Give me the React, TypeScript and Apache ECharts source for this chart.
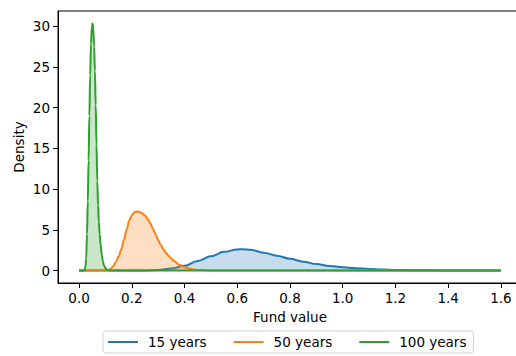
import React, { useEffect, useRef } from "react";
import * as echarts from "echarts";

const seriesNames = ["15 years", "50 years", "100 years"];
const colors = ["#1f77b4", "#ff7f0e", "#2ca02c"];

const xTicks = [0, 0.2, 0.4, 0.6, 0.8, 1.0, 1.2, 1.4, 1.6];
const yTicks = [0, 5, 10, 15, 20, 25, 30];

const years15: [number, number][] = [
  [0, 0], [0.2, 0], [0.25, 0.01], [0.3, 0.07], [0.35, 0.25], [0.4, 0.6],
  [0.45, 1.18], [0.5, 1.75], [0.55, 2.3], [0.6, 2.6], [0.62, 2.63],
  [0.65, 2.55], [0.7, 2.2], [0.75, 1.83], [0.8, 1.45], [0.85, 1.1],
  [0.9, 0.8], [0.95, 0.58], [1.0, 0.42], [1.05, 0.3], [1.1, 0.2],
  [1.15, 0.13], [1.2, 0.08], [1.3, 0.03], [1.4, 0.01], [1.5, 0], [1.6, 0],
];

const years50: [number, number][] = [
  [0, 0], [0.1, 0], [0.11, 0.05], [0.12, 0.22], [0.13, 0.55], [0.14, 1.1],
  [0.15, 1.75], [0.16, 2.6], [0.17, 3.74], [0.18, 5.0], [0.19, 6.1],
  [0.2, 6.8], [0.21, 7.15], [0.22, 7.25], [0.23, 7.18], [0.24, 7.0],
  [0.25, 6.75], [0.26, 6.35], [0.27, 5.8], [0.28, 5.15], [0.29, 4.45],
  [0.3, 3.75], [0.31, 3.15], [0.32, 2.6], [0.33, 2.15], [0.34, 1.8],
  [0.35, 1.47], [0.36, 1.17], [0.38, 0.72], [0.4, 0.42], [0.42, 0.23],
  [0.44, 0.12], [0.46, 0.06], [0.48, 0.03], [0.5, 0.01], [0.55, 0], [1.6, 0],
];

const years100: [number, number][] = [
  [0, 0], [0.016, 0], [0.02, 0.05], [0.024, 0.4], [0.027, 1.5], [0.03, 4.5],
  [0.033, 8.5], [0.036, 13.5], [0.039, 19], [0.042, 24], [0.045, 27.8],
  [0.048, 29.8], [0.051, 30.3], [0.054, 29.6], [0.057, 27.5], [0.06, 24.5],
  [0.063, 20.3], [0.066, 15.5], [0.069, 11], [0.072, 8], [0.075, 6],
  [0.078, 4.5], [0.082, 3.1], [0.086, 1.95], [0.09, 1.15], [0.095, 0.6],
  [0.1, 0.3], [0.106, 0.12], [0.112, 0.04], [0.12, 0], [1.6, 0],
];

const allData = [years15, years50, years100];

const FONT = "DejaVu Sans";

export default function App() {
  const ref = useRef<HTMLDivElement>(null);
  useEffect(() => {
    if (!ref.current) return;
    const chart = echarts.init(ref.current, undefined, { renderer: "svg" });
    chart.setOption({
      animation: false,
      textStyle: { fontFamily: FONT },
      grid: {
        left: 58,
        top: 11,
        width: 464,
        height: 272,
        outerBoundsMode: "none",
        containLabel: false,
        show: true,
        borderColor: "#000",
        borderWidth: 1,
        backgroundColor: "transparent",
      },
      legend: {
        left: 103,
        top: 331,
        data: seriesNames,
        icon: "rect",
        itemWidth: 30,
        itemHeight: 2,
        itemGap: 27,
        padding: [4, 7, 4, 5],
        borderColor: "#d0d0d0",
        borderWidth: 1,
        borderRadius: 3,
        textStyle: { fontFamily: FONT, fontSize: 13.5, color: "#000", padding: [0, 0, 0, 5] },
      },
      xAxis: {
        type: "value",
        min: -0.08,
        max: 1.68,
        name: "Fund value",
        nameLocation: "middle",
        nameGap: 27,
        nameMoveOverlap: false,
        nameTextStyle: { fontFamily: FONT, fontSize: 13.5, color: "#000" },
        axisLine: { show: true, onZero: false, lineStyle: { color: "#000", width: 1 } },
        axisTick: { show: true, length: 5, lineStyle: { color: "#000" }, customValues: xTicks },
        axisLabel: {
          customValues: xTicks,
          formatter: (v: number) => v.toFixed(1),
          fontFamily: FONT,
          fontSize: 13.5,
          color: "#000",
          margin: 8,
        },
        splitLine: { show: false },
      },
      yAxis: {
        type: "value",
        min: -1.52,
        max: 31.84,
        name: "Density",
        nameLocation: "middle",
        nameRotate: 90,
        nameGap: 32,
        nameMoveOverlap: false,
        nameTextStyle: { fontFamily: FONT, fontSize: 13.5, color: "#000" },
        axisLine: { show: true, onZero: false, lineStyle: { color: "#000", width: 1 } },
        axisTick: { show: true, length: 5, lineStyle: { color: "#000" }, customValues: yTicks },
        axisLabel: {
          customValues: yTicks,
          fontFamily: FONT,
          fontSize: 13.5,
          color: "#000",
          margin: 8,
        },
        splitLine: { show: false },
      },
      series: allData.map((d, i) => ({
        name: seriesNames[i],
        type: "line",
        data: d,
        symbol: "none",
        smooth: 0.4,
        smoothMonotone: "x",
        lineStyle: { color: colors[i], width: 2 },
        itemStyle: { color: colors[i] },
        areaStyle: { color: colors[i], opacity: 0.25 },
        z: 2 + i,
      })),
    });
    return () => chart.dispose();
  }, []);
  return (
    <div
      ref={ref}
      style={{ position: "absolute", left: 0, top: 0, width: 516, height: 356 }}
    />
  );
}
